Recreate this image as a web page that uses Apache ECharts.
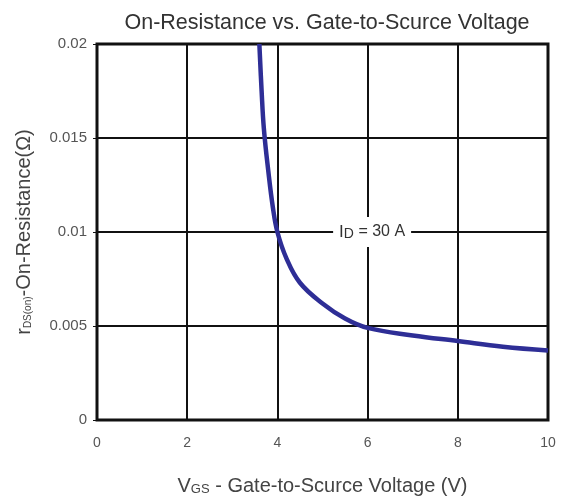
<!DOCTYPE html>
<html><head><meta charset="utf-8">
<script src="https://cdn.jsdelivr.net/npm/echarts@6/dist/echarts.min.js"></script>
<style>html,body{margin:0;padding:0;background:#fff}#c{width:561px;height:502px}</style>
</head><body><div id="c"></div>
<script>
const vgs = [3.6, 3.65, 3.7, 3.8, 3.9, 4.0, 4.2, 4.5, 5.0, 5.5, 6.0, 7.0, 8.0, 9.0, 10.0];
const rds = [0.0200, 0.0175, 0.0155, 0.0132, 0.0113, 0.0100, 0.0086, 0.0073, 0.0062, 0.0054, 0.0049, 0.0045, 0.0042, 0.0039, 0.0037];
const labelPos = [6.1, 0.01];
const xTicks = [0, 2, 4, 6, 8, 10];
const yTicks = [0, 0.005, 0.01, 0.015, 0.02];

const chart = echarts.init(document.getElementById('c'));
const font = 'Liberation Sans, Arial, sans-serif';
chart.setOption({
  animation: false,
  title: {
    text: 'On-Resistance vs. Gate-to-Scurce Voltage',
    left: 322, top: 7, textAlign: 'center',
    textStyle: {fontFamily: font, fontSize: 21.5, fontWeight: 'normal', color: '#333'}
  },
  grid: {left: 97, right: 13, top: 44, bottom: 82, containLabel: false, outerBoundsMode: 'none',
    show: true, borderColor: '#111', borderWidth: 3, backgroundColor: 'transparent'},
  xAxis: {
    type: 'value', min: 0, max: 10, interval: 2,
    axisLine: {show: false},
    axisTick: {show: false},
    axisLabel: {fontFamily: font, fontSize: 14, color: '#555', margin: 16,
      formatter: v => xTicks.includes(v) ? String(v) : ''},
    splitLine: {lineStyle: {color: '#111', width: 2}},
    name: '{v|V}{s|GS}{t| - Gate-to-Scurce Voltage (V)}',
    nameLocation: 'middle', nameGap: 56,
    nameTextStyle: {rich: {
      v: {fontFamily: font, fontSize: 20, color: '#444'},
      s: {fontFamily: font, fontSize: 13, color: '#444', padding: [6, 0, 0, 0]},
      t: {fontFamily: font, fontSize: 20, color: '#444'}
    }}
  },
  yAxis: {
    type: 'value', min: 0, max: 0.02, interval: 0.005,
    axisLine: {show: false},
    axisTick: {show: true, length: 4, lineStyle: {color: '#111', width: 1}},
    axisLabel: {fontFamily: font, fontSize: 15, color: '#555', margin: 10,
      formatter: v => { const t = yTicks.find(y => Math.abs(y - v) < 1e-9); return t === undefined ? '' : String(t); }},
    splitLine: {lineStyle: {color: '#111', width: 2}},
    name: '{r|r}{s|DS(on)}{t|-On-Resistance(Ω)}',
    nameLocation: 'middle', nameGap: 63,
    nameTextStyle: {rich: {
      r: {fontFamily: font, fontSize: 20, color: '#444'},
      s: {fontFamily: font, fontSize: 10, color: '#444', padding: [8, 0, 0, 0]},
      t: {fontFamily: font, fontSize: 20, color: '#444'}
    }}
  },
  series: [{
    type: 'line',
    data: vgs.map((v, i) => [v, rds[i]]),
    smooth: 0.4,
    showSymbol: false,
    lineStyle: {color: '#2e2e96', width: 4.5},
    z: 5,
    markPoint: {
      symbol: 'rect', symbolSize: 0,
      data: [{coord: labelPos}],
      label: {
        show: true, position: 'inside',
        formatter: '{i|I}{d|D}{t| = 30 A}',
        backgroundColor: '#fff', padding: [6, 6, 6, 6],
        rich: {
          i: {fontFamily: font, fontSize: 17, color: '#333'},
          d: {fontFamily: font, fontSize: 14, color: '#333', padding: [4, 0, 0, 0]},
          t: {fontFamily: font, fontSize: 16, color: '#333'}
        }
      }
    }
  }]
});
</script></body></html>
